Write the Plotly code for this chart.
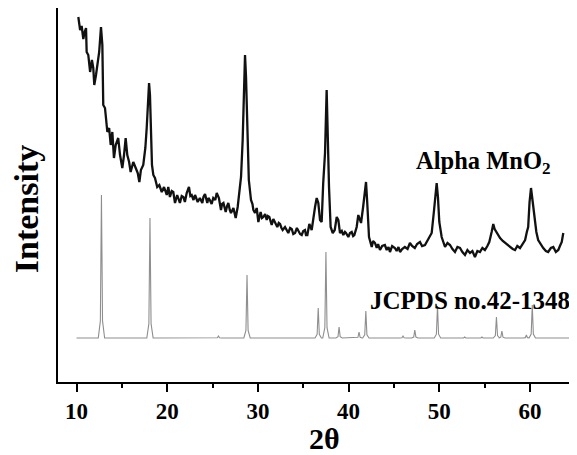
import plotly.graph_objects as go

# Experimental XRD pattern (2-theta, intensity a.u.)
exp_2theta = [10.2, 10.4, 10.57, 10.75, 10.9, 11.05, 11.12, 11.3, 11.5, 11.7, 11.85, 11.96, 12.15, 12.34, 12.5, 12.7,
              12.85, 12.95, 13.14, 13.25, 13.4, 13.6, 13.77, 13.95, 14.13, 14.32, 14.6, 14.8, 15.05, 15.24, 15.42, 15.6,
              15.8, 15.97, 16.26, 16.53, 16.75, 16.93, 17.1, 17.36, 17.59, 17.74, 17.85, 18.0, 18.1, 18.2, 18.32, 18.47,
              18.65, 18.9, 19.13, 19.4, 19.65, 19.95, 20.12, 20.3, 20.5, 20.67, 20.86, 21.1, 21.4, 21.6, 21.78, 21.95,
              22.15, 22.4, 22.55, 22.7, 22.9, 23.07, 23.2, 23.36, 23.6, 23.87, 24.0, 24.17, 24.42, 24.55, 24.7, 24.9,
              25.08, 25.3, 25.46, 25.7, 25.93, 26.05, 26.2, 26.45, 26.6, 26.74, 26.9, 27.03, 27.3, 27.55, 27.77, 27.95,
              28.14, 28.32, 28.47, 28.58, 28.69, 28.83, 29.0, 29.24, 29.4, 29.5, 29.68, 29.87, 30.05, 30.3, 30.45, 30.6,
              30.8, 30.97, 31.1, 31.26, 31.52, 31.7, 31.89, 32.14, 32.3, 32.44, 32.6, 32.73, 32.99, 33.2, 33.35, 33.55,
              33.73, 33.9, 34.1, 34.3, 34.45, 34.65, 34.83, 35.0, 35.19, 35.3, 35.45, 35.67, 35.93, 36.1, 36.3, 36.48,
              36.66, 36.85, 37.03, 37.2, 37.4, 37.58, 37.69, 37.84, 38.02, 38.25, 38.47, 38.69, 38.87, 39.05, 39.25, 39.42,
              39.6, 39.71, 39.97, 40.15, 40.34, 40.5, 40.63, 40.89, 41.07, 41.2, 41.37, 41.6, 41.8, 41.92, 42.05, 42.17,
              42.25, 42.4, 42.55, 42.7, 42.91, 43.1, 43.25, 43.46, 43.7, 44.0, 44.2, 44.4, 44.56, 44.8, 45.1, 45.3,
              45.5, 45.67, 45.9, 46.2, 46.5, 46.76, 47.0, 47.3, 47.55, 47.87, 48.1, 48.42, 48.65, 48.9, 49.16, 49.4,
              49.6, 49.71, 49.85, 50.0, 50.26, 50.45, 50.63, 50.9, 51.18, 51.45, 51.73, 52.0, 52.28, 52.55, 52.83, 53.1,
              53.38, 53.65, 53.93, 54.2, 54.48, 54.75, 55.03, 55.3, 55.51, 55.77, 55.95, 56.1, 56.33, 56.5, 56.7, 57.0,
              57.25, 57.5, 57.8, 58.1, 58.35, 58.6, 58.9, 59.2, 59.46, 59.65, 59.8, 59.95, 60.11, 60.3, 60.55, 60.7,
              60.9, 61.2, 61.46, 61.75, 62.0, 62.3, 62.57, 62.85, 63.12, 63.3, 63.5, 63.67]
exp_intensity = [365, 352, 356, 343, 350, 354, 330, 327, 310, 322, 314, 297, 307, 320, 330, 355,
                 337, 277, 274, 264, 250, 254, 237, 250, 224, 237, 244, 227, 214, 227, 244, 227,
                 220, 210, 220, 214, 209, 200, 212, 217, 234, 254, 280, 299, 287, 250, 217, 207,
                 204, 195, 197, 190, 195, 187, 195, 185, 191, 190, 179, 187, 179, 186, 185, 180,
                 189, 195, 186, 187, 182, 187, 183, 180, 184, 179, 185, 188, 179, 184, 182, 178,
                 184, 182, 189, 184, 172, 178, 179, 170, 176, 179, 172, 169, 174, 164, 175, 189,
                 205, 242, 292, 327, 305, 249, 202, 182, 178, 172, 169, 174, 160, 170, 164, 165,
                 168, 162, 166, 165, 157, 163, 160, 155, 159, 158, 154, 152, 155, 151, 149, 154,
                 153, 148, 149, 154, 152, 148, 147, 151, 152, 147, 147, 158, 152, 165, 175, 184,
                 179, 162, 160, 199, 229, 292, 245, 195, 155, 149, 152, 165, 162, 149, 151, 147,
                 150, 149, 145, 149, 150, 146, 147, 155, 167, 163, 159, 175, 192, 200, 180, 150,
                 145, 140, 135, 141, 139, 134, 138, 132, 136, 137, 132, 135, 130, 136, 134, 131,
                 135, 130, 133, 135, 133, 139, 136, 134, 138, 140, 136, 137, 141, 144, 149, 170,
                 195, 199, 185, 160, 145, 140, 135, 139, 137, 133, 130, 135, 134, 130, 127, 132,
                 129, 131, 125, 131, 130, 134, 132, 136, 140, 150, 158, 153, 149, 147, 144, 141,
                 139, 137, 135, 133, 132, 136, 134, 138, 142, 150, 155, 180, 194, 180, 159, 150,
                 142, 137, 134, 131, 130, 134, 135, 130, 132, 136, 140, 149]

# JCPDS 42-1348 reference lines (2-theta, intensity a.u.)
ref_2theta = [12.75, 18.1, 25.65, 28.8, 36.65, 37.5, 38.95, 41.15, 41.9, 46.0, 47.3, 49.8,
              52.8, 54.7, 56.3, 56.9, 59.6, 60.25]
ref_intensity = [187, 164, 46, 107, 74, 130, 55, 50, 71, 46, 52, 76,
                 45, 45, 65, 51, 47, 77]
ref_baseline = 44
ref_start, ref_end = 10.0, 64.4

x_ticks = [10, 20, 30, 40, 50, 60]

# build the reference profile from the line list
ref_x = [ref_start]
ref_y = [ref_baseline]
for p, h in zip(ref_2theta, ref_intensity):
    ref_x += [p - 0.35, p - 0.12, p, p + 0.12, p + 0.35]
    ref_y += [ref_baseline, ref_baseline + (h - ref_baseline) * 0.12, h,
              ref_baseline + (h - ref_baseline) * 0.12, ref_baseline]
ref_x.append(ref_end)
ref_y.append(ref_baseline)

FONT = "Liberation Serif"

fig = go.Figure()
fig.add_trace(go.Scatter(x=ref_x, y=ref_y, mode="lines",
                         line=dict(color="#8e8e8e", width=1.1), hoverinfo="skip"))
fig.add_trace(go.Scatter(x=exp_2theta, y=exp_intensity, mode="lines",
                         line=dict(color="#111111", width=2.3), hoverinfo="skip"))

# the page body has an 8px margin, so the figure is sized/offset to compensate
fig.update_layout(
    template="none",
    width=569, height=447,
    margin=dict(l=50, r=6, t=0, b=73, autoexpand=False),
    paper_bgcolor="white", plot_bgcolor="white",
    showlegend=False,
    xaxis=dict(range=[7.96, 64.52], tickvals=x_ticks, ticktext=[str(v) for v in x_ticks],
               automargin=False,
               ticks="outside", ticklen=8, tickwidth=1.5, tickcolor="black",
               showline=True, linecolor="black", linewidth=1.5, showgrid=False, zeroline=False,
               tickfont=dict(family=FONT, size=23, color="black", weight="bold"),
               minor=dict(dtick=5, tick0=5, ticks="outside", ticklen=4, tickwidth=1.5,
                          tickcolor="black", showgrid=False)),
    yaxis=dict(range=[0, 374], showticklabels=False, ticks="", automargin=False,
               showline=True, linecolor="black", linewidth=1.5, showgrid=False, zeroline=False),
    annotations=[
        dict(text="2θ", xref="paper", yref="paper", x=0.52, y=-0.152,
             xanchor="center", yanchor="middle", showarrow=False,
             font=dict(family=FONT, size=30, color="black", weight="bold")),
        dict(text="Intensity", xref="paper", yref="paper", x=-0.06, y=0.4626,
             xanchor="center", yanchor="middle", textangle=-90, showarrow=False,
             font=dict(family=FONT, size=34, color="black", weight="bold")),
        dict(text="Alpha MnO<sub>2</sub>", xref="x", yref="y", x=47.2, y=220,
             xanchor="left", yanchor="middle", showarrow=False,
             font=dict(family=FONT, size=24.5, color="black", weight="bold")),
        dict(text="JCPDS no.42-1348", xref="x", yref="y", x=42.1, y=82,
             xanchor="left", yanchor="middle", showarrow=False,
             font=dict(family=FONT, size=25, color="black", weight="bold")),
    ],
)

fig.write_html("out.html")
